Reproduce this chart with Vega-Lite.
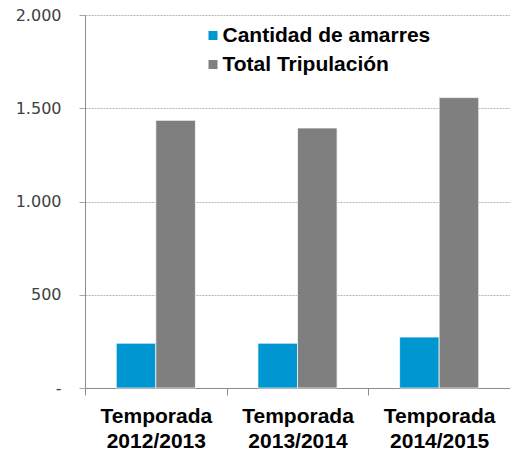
{
  "$schema": "https://vega.github.io/schema/vega-lite/v6.json",
  "autosize": {"type": "none"},
  "width": 425,
  "height": 373,
  "padding": {"left": 85, "top": 15, "right": 0, "bottom": 67},
  "background": "white",
  "data": {
    "values": [
      {"temporada": "Temporada 2012/2013", "serie": "Cantidad de amarres", "valor": 240},
      {"temporada": "Temporada 2012/2013", "serie": "Total Tripulación", "valor": 1435},
      {"temporada": "Temporada 2013/2014", "serie": "Cantidad de amarres", "valor": 240},
      {"temporada": "Temporada 2013/2014", "serie": "Total Tripulación", "valor": 1394},
      {"temporada": "Temporada 2014/2015", "serie": "Cantidad de amarres", "valor": 273},
      {"temporada": "Temporada 2014/2015", "serie": "Total Tripulación", "valor": 1557}
    ]
  },
  "mark": {"type": "bar", "stroke": "white", "strokeWidth": 1, "strokeOpacity": 0.7},
  "encoding": {
    "x": {
      "field": "temporada",
      "type": "nominal",
      "sort": null,
      "scale": {"paddingInner": 0, "paddingOuter": 0},
      "axis": {
        "title": null,
        "labelAngle": 0,
        "labelExpr": "split(datum.label, ' ')",
        "labelFont": "Liberation Sans",
        "labelFontWeight": "bold",
        "labelFontSize": 21,
        "labelColor": "#000000",
        "labelLineHeight": 25,
        "labelBaseline": "top",
        "labelPadding": 10,
        "tickBand": "extent",
        "tickSize": 7,
        "tickColor": "#8c8c8c",
        "domainColor": "#8c8c8c",
        "grid": false
      }
    },
    "xOffset": {
      "field": "serie",
      "type": "nominal",
      "scale": {"paddingInner": 0, "paddingOuter": 0.79}
    },
    "y": {
      "field": "valor",
      "type": "quantitative",
      "scale": {"domain": [0, 2000]},
      "axis": {
        "title": null,
        "values": [0, 500, 1000, 1500, 2000],
        "labelExpr": "datum.value == 0 ? '-\u00a0\u00a0' : replace(format(datum.value, ','), ',', '.')",
        "labelFont": "DejaVu Sans",
        "labelFontSize": 16,
        "labelColor": "#404040",
        "labelPadding": 18,
        "tickSize": 6,
        "tickColor": "#a6a6a6",
        "domainColor": "#8c8c8c",
        "grid": true,
        "gridColor": "#b4b4b4",
        "gridDash": [2, 1],
        "gridWidth": 1
      }
    },
    "color": {
      "field": "serie",
      "type": "nominal",
      "scale": {"domain": ["Cantidad de amarres", "Total Tripulación"], "range": ["#0096d2", "#7f7f7f"]},
      "legend": {
        "title": null,
        "orient": "none",
        "legendX": 117.5,
        "legendY": 10,
        "padding": 0,
        "symbolType": "square",
        "symbolSize": 81,
        "symbolStrokeWidth": 0,
        "labelFont": "Liberation Sans",
        "labelFontWeight": "bold",
        "labelFontSize": 21,
        "labelColor": "#000000",
        "labelOffset": -1,
        "labelLimit": 400,
        "rowPadding": 7
      }
    }
  },
  "config": {"view": {"stroke": null}}
}
